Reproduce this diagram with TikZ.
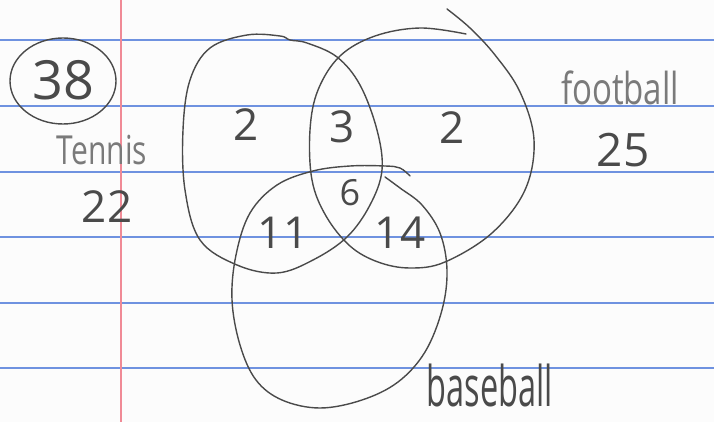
\documentclass[tikz,border=0pt]{standalone}
\usepackage{fontspec}
\setmainfont{Open Sans}
\definecolor{paper}{HTML}{FCFCFC}
\definecolor{ruled}{HTML}{6F92E0}
\definecolor{margin}{HTML}{F08A96}
\definecolor{pencil}{HTML}{4A4A4A}
\definecolor{faint}{HTML}{7A7A7A}
\tikzset{
  pen/.style={draw=pencil, line width=1.4pt, line cap=round, line join=round},
  hand/.style={text=pencil, inner sep=0pt},
}
\newcommand{\handsize}[1]{\fontsize{#1}{#1}\selectfont}
\begin{document}
\begin{tikzpicture}[x=1pt, y=-1pt]
            \fill [paper] (0,0) rectangle (714,422);
            \useasboundingbox (0,0) rectangle (714,422);
            % ruled paper
            \foreach \y in {40,106,172,237,303,368}
                \draw [ruled, line width=1.2pt] (0,\y) -- (714,\y);
            \draw [margin, line width=1.4pt] (121,0) -- (121,422);
            % problem number
            \draw [pen] (63,81) ellipse (53 and 43);
            \node [hand] (num) at (63,80) {\handsize{54}38};
            % tennis set
            \draw [pen] plot [smooth cycle, tension=0.6] coordinates {(247,35) (280,36) (290,40) (307,43) (337,57) (360,85) (377,130) (382,170) (370,205) (347,237) (313,260) (277,273) (237,265) (200,240) (185,190) (183,130) (190,80) (210,48)};
            % football set
            \draw [pen] plot [smooth, tension=0.6] coordinates {(447,9) (470,28) (495,55) (520,92) (534,140) (525,190) (492,233) (445,262) (410,268) (378,262) (350,246) (326,216) (312,180) (310,130) (318,90) (340,56) (375,36) (420,28) (466,34)};
            % baseball set
            \draw [pen] plot [smooth, tension=0.6] coordinates {(410,176) (400,168) (385,166) (350,166) (313,171) (277,185) (250,213) (236,255) (232,300) (240,345) (256,380) (282,400) (320,408) (362,400) (398,382) (425,352) (442,310) (447,270) (440,233) (422,205) (400,188) (385,177)};
            % region counts
            \node [hand] (tOnly) at (246,125) {\handsize{44}2};
            \node [hand] (tf) at (342,127) {\handsize{44}3};
            \node [hand] (fOnly) at (452,128) {\handsize{44}2};
            \node [hand] (tfb) at (350,193) {\handsize{36}6};
            \node [hand] (tb) at (283,233) {\handsize{44}11};
            \node [hand] (fb) at (400,233) {\handsize{44}14};
            % set labels
            \node [hand, text=faint, xscale=0.75] (tennis) at (102,150) {\handsize{40}Tennis};
            \node [hand] (tennisN) at (107,207) {\handsize{44}22};
            \node [hand, text=faint, xscale=0.75] (football) at (620,88) {\handsize{44}football};
            \node [hand] (footballN) at (623,150) {\handsize{46}25};
            \node [hand, xscale=0.58] (baseball) at (490,385) {\handsize{56}baseball};
\end{tikzpicture}
\end{document}
